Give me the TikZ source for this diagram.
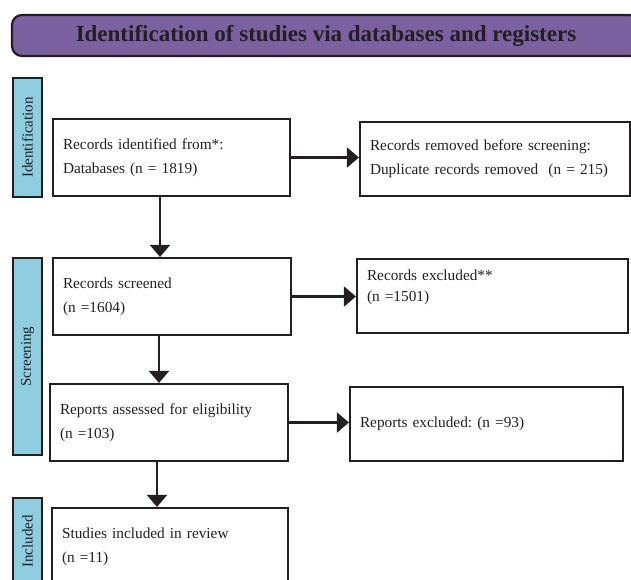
\documentclass[tikz,border=0pt]{standalone}
\usepackage{fontspec}
\setmainfont{Liberation Serif}
\usetikzlibrary{arrows.meta}
\definecolor{titlepurple}{RGB}{123,97,160}
\definecolor{barblue}{RGB}{143,205,224}
\definecolor{ink}{RGB}{35,31,32}
\frenchspacing

\begin{document}
\begin{tikzpicture}[x=1pt, y=-1pt, line width=2.2pt, color=ink,
		main/.style = {draw, rectangle, align=left, inner xsep=10pt, inner ysep=0pt, font=\fontsize{15.3}{24}\selectfont},
		side/.style = {draw, fill=barblue, rotate=90, minimum height=29pt, inner sep=0pt, font=\fontsize{15}{18}\selectfont},
		arr/.style = {-{Triangle[width=20pt,length=12pt]}}]
			\useasboundingbox (0,0) rectangle (631,579);
			\node[draw, fill=titlepurple, rounded corners=10pt, minimum width=628pt, minimum height=41pt, font=\bfseries\fontsize{23}{27}\selectfont] (title) at (326,35.5) {Identification of studies via databases and registers};
			
			\node[side, minimum width=119pt] (id) at (27.5,137.5) {Identification};
			\node[side, minimum width=197pt] (scr) at (27.5,356.5) {Screening};
			\node[side, minimum width=87pt] (inc) at (27.5,541.5) {Included};
			
			\node[main, text width=217pt, minimum height=77pt] (1) at (171.5,157.5) {Records identified from*:\\Databases (n = 1819)};
			\node[main, text width=250pt, minimum height=74pt] (2) at (495,159) {Records removed before screening:\\Duplicate records removed~ (n = 215)};
			\node[main, text width=218pt, minimum height=77pt] (3) at (172,296.5) {Records screened\\(n =1604)};
			\node[main, text width=251pt, minimum height=74pt, font=\fontsize{15.3}{21}\selectfont] (4) at (492.5,296) {Records excluded**\\(n =1501)\\~};
			\node[main, text width=218pt, minimum height=77pt] (5) at (169,422.5) {Reports assessed for eligibility\\(n =103)};
			\node[main, text width=253pt, minimum height=74pt] (6) at (486.5,424) {Reports excluded: (n =93)};
			\node[main, text width=216pt, minimum height=77pt] (7) at (170,546.5) {Studies included in review\\(n =11)};
			
			\draw[arr] (1.east) -- (1.east -| 2.west);
			\draw[arr] (3.east) -- (3.east -| 4.west);
			\draw[arr] (5.east) -- (5.east -| 6.west);
			\draw[arr] ([xshift=-11.5pt]1.south) -- ([xshift=-11.5pt]1.south |- 3.north);
			\draw[arr] ([xshift=-13pt]3.south) -- ([xshift=-13pt]3.south |- 5.north);
			\draw[arr] ([xshift=-12pt]5.south) -- ([xshift=-12pt]5.south |- 7.north);
		\end{tikzpicture}
\end{document}
